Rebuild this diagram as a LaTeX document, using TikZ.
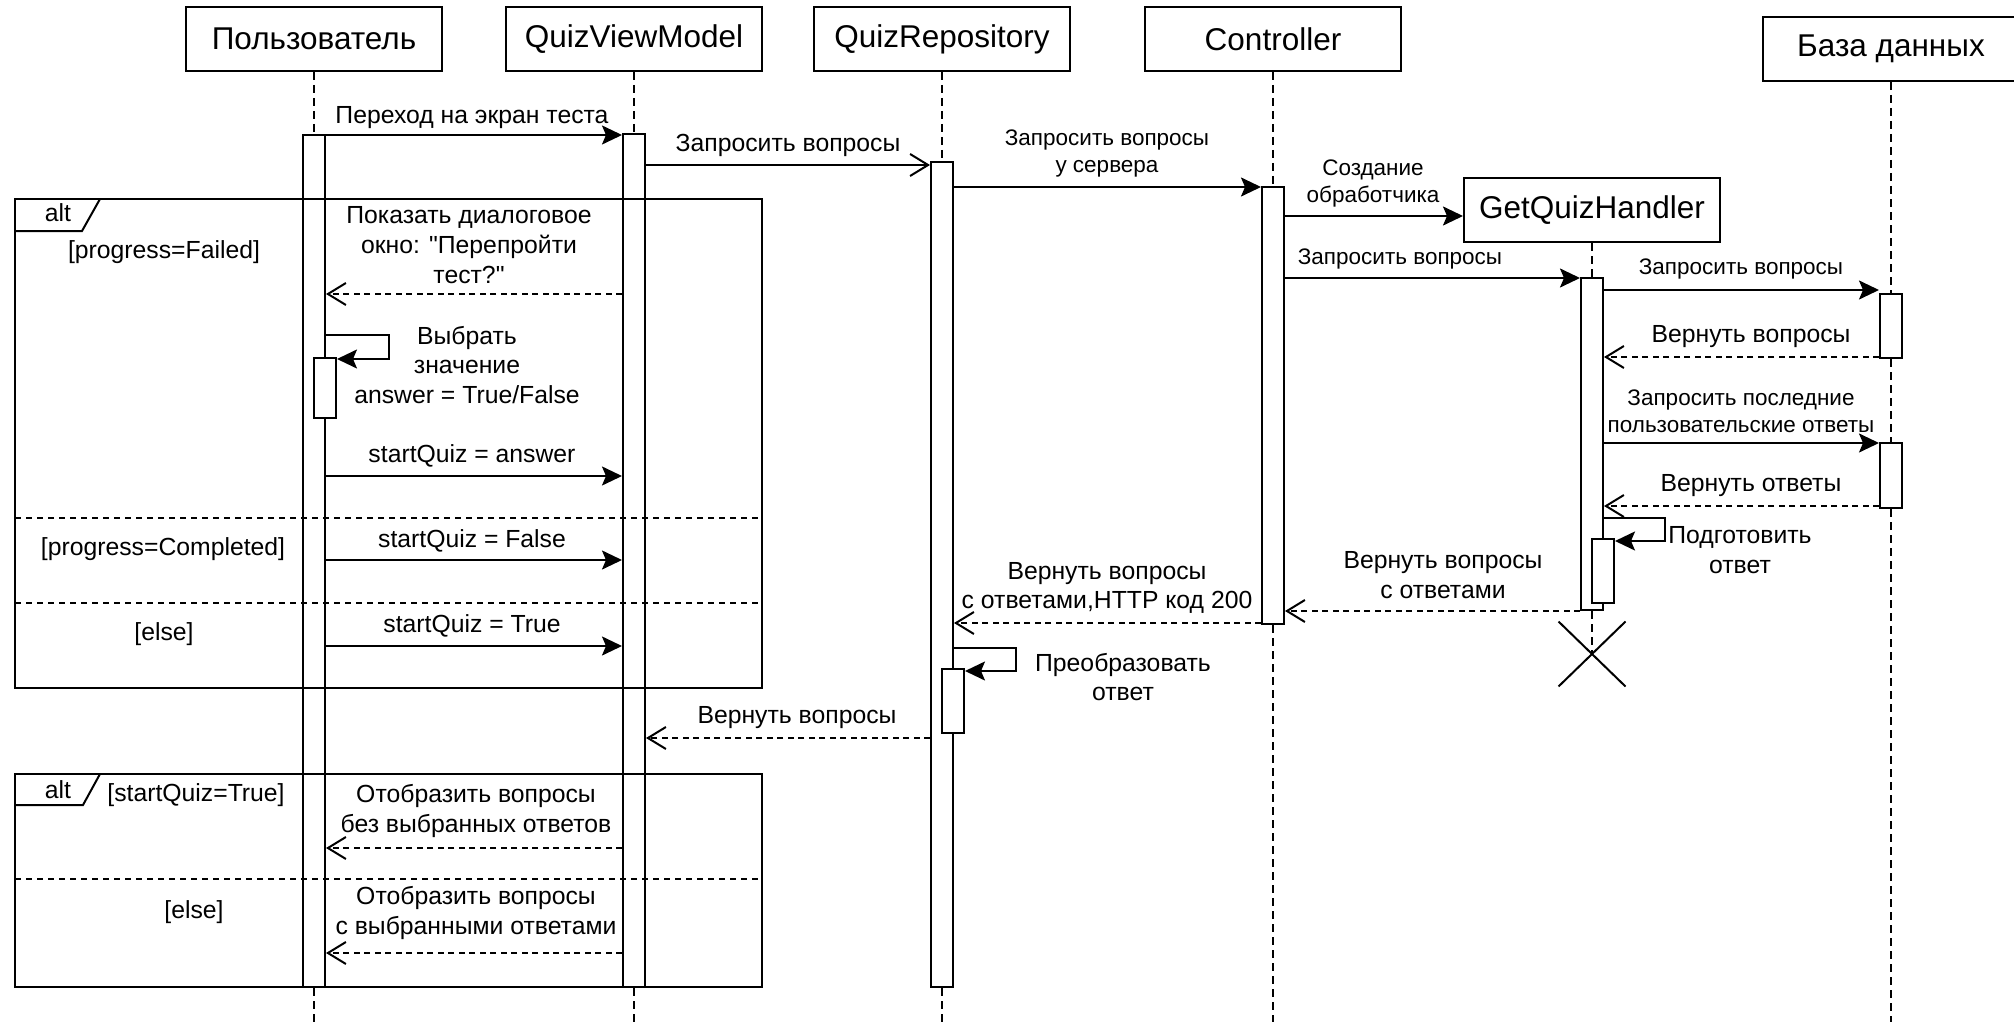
\documentclass[tikz,border=0pt]{standalone}
\usepackage{fontspec}
\setmainfont{Liberation Sans}[Ligatures=TeXOff]
\usetikzlibrary{arrows.meta,shapes.misc}

\newcommand\partsz{\fontsize{31.5}{37.8}\selectfont}
\newcommand\msgsz{\fontsize{24.75}{29.7}\selectfont}
\newcommand\smsz{\fontsize{22.5}{27}\selectfont}

\begin{document}
\begin{tikzpicture}[x=1pt,y=-1pt,
  part/.style={draw, fill=white, line width=2pt, minimum width=256pt, minimum height=64pt, inner sep=0pt, font=\partsz},
  act/.style={draw, fill=white, line width=2pt, minimum width=22pt, inner sep=0pt},
  life/.style={line width=1.5pt, dash pattern=on 8pt off 5pt},
  call/.style={line width=2pt, -{Stealth[length=20pt,width=19pt,inset=4pt]}},
  callopen/.style={line width=2pt, -{Straight Barb[length=18pt,width=22pt]}},
  reply/.style={line width=2pt, dash pattern=on 6pt off 4.5pt, -{Straight Barb[length=18pt,width=22pt]}},
  lbl/.style={inner sep=0pt, align=center, font=\msgsz},
  slbl/.style={inner sep=0pt, align=center, font=\smsz},
  sep/.style={line width=1.5pt, dash pattern=on 6pt off 5pt},
  frm/.style={line width=2pt},
]
\useasboundingbox (0,0) rectangle (2014,1022);
\clip (0,0) rectangle (2014,1022);

% participants
\node[part] (P1) at (314,39) {Пользователь};
\node[part] (P2) at (634,39) {QuizViewModel};
\node[part] (P3) at (942,39) {QuizRepository};
\node[part] (P4) at (1273,39) {Controller};
\node[part] (P5) at (1592,210) {GetQuizHandler};
\node[part] (P6) at (1891,49) {База данных};

% lifeline ends
\coordinate (E1) at (314,1022);
\coordinate (E2) at (634,1022);
\coordinate (E3) at (942,1022);
\coordinate (E4) at (1273,1022);
\coordinate (E6) at (1891,1022);

% activation bars
\node[act, minimum height=852pt] (A1) at (314,561) {};
\node[act, minimum height=853pt] (A2) at (634,560.5) {};
\node[act, minimum height=825pt] (A3) at (942,574.5) {};
\node[act, minimum height=437pt] (A4) at (1273,405.5) {};
\node[act, minimum height=332pt] (A5) at (1592,444) {};
\node[act, minimum height=64pt] (A6) at (1891,326) {};
\node[act, minimum height=65pt] (A7) at (1891,475.5) {};
\node[act, minimum height=60pt] (A1b) at (325,388) {};
\node[act, minimum height=64pt] (A3b) at (953,701) {};
\node[act, minimum height=64pt] (A5b) at (1603,571) {};

% destruction mark
\node[cross out, draw, line width=2pt, minimum width=65pt, minimum height=63pt, inner sep=0pt] (X) at (1592,654) {};

% lifelines
\draw[life] (P1.south) -- (A1.north);
\draw[life] (A1.south) -- (E1);
\draw[life] (P2.south) -- (A2.north);
\draw[life] (A2.south) -- (E2);
\draw[life] (P3.south) -- (A3.north);
\draw[life] (A3.south) -- (E3);
\draw[life] (P4.south) -- (A4.north);
\draw[life] (A4.south) -- (E4);
\draw[life] (P5.south) -- (A5.north);
\draw[life] (A5.south) -- (X.center);
\draw[life] (P6.south) -- (A6.north);
\draw[life] (A6.south) -- (A7.north);
\draw[life] (A7.south) -- (E6);

% first alt fragment
\draw[frm] (15,199) rectangle (762,688);
\draw[frm] (15,231) -- (82,231) -- (100,199);
\draw[sep] (15,518) -- (762,518);
\draw[sep] (15,603) -- (762,603);
\node[lbl] (alt1) at (58,213) {alt};
\node[lbl] (g1) at (164,252) {[progress=Failed]};
\node[lbl] (g2) at (163,549) {[progress=Completed]};
\node[lbl] (g3) at (164,634) {[else]};

% second alt fragment
\draw[frm] (15,774) rectangle (762,987);
\draw[frm] (15,805) -- (83,805) -- (100,774);
\draw[sep] (15,879) -- (762,879);
\node[lbl] (alt2) at (58,790) {alt};
\node[lbl] (g4) at (196,795) {[startQuiz=True]};
\node[lbl] (g5) at (194,912) {[else]};

% messages
\draw[call] (A1.east |- 0,135) -- (A2.west |- 0,135);
\node[lbl] (t1) at (472,118) {Переход на экран теста};

\draw[callopen] (A2.east |- 0,165) -- (A3.west |- 0,165);
\node[lbl] (t2) at (788,145) {Запросить вопросы};

\draw[call] (A3.east |- 0,187) -- (A4.west |- 0,187);
\node[slbl] (t3) at (1107,153) {Запросить вопросы\\у сервера};

\draw[call] (A4.east |- 0,216) -- (P5.west |- 0,216);
\node[slbl] (t4) at (1373,183) {Создание\\обработчика};

\draw[call] (A4.east |- 0,278) -- (A5.west |- 0,278);
\node[slbl] (t5) at (1400,259) {Запросить вопросы};

\draw[call] (A5.east |- 0,290) -- (A6.west |- 0,290);
\node[slbl] (t6) at (1741,269) {Запросить вопросы};

\draw[reply] (A6.west |- 0,357) -- (A5.east |- 0,357);
\node[lbl] (t7) at (1751,337) {Вернуть вопросы};

\draw[call] (A5.east |- 0,443) -- (A7.west |- 0,443);
\node[slbl] (t8) at (1741,411) {Запросить последние\\пользовательские ответы};

\draw[reply] (A7.west |- 0,506) -- (A5.east |- 0,506);
\node[lbl] (t9) at (1751,486) {Вернуть ответы};

\draw[call] (A5.east |- 0,518) -- ++(61,0) -- ++(0,23) -- (A5b.east |- 0,541);
\node[lbl] (t10) at (1740,550) {Подготовить\\ответ};

\draw[reply] (A5.west |- 0,611) -- (A4.east |- 0,611);
\node[lbl] (t11) at (1443,575) {Вернуть вопросы\\с ответами};

\draw[reply] (A4.west |- 0,623) -- (A3.east |- 0,623);
\node[lbl] (t12) at (1107,588) {Вернуть вопросы\\с ответами,HTTP код 200};

\draw[call] (A3.east |- 0,648) -- ++(62,0) -- ++(0,23) -- (A3b.east |- 0,671);
\node[lbl] (t13) at (1123,677) {Преобразовать\\ответ};

\draw[reply] (A3.west |- 0,738) -- (A2.east |- 0,738);
\node[lbl] (t14) at (797,718) {Вернуть вопросы};

\draw[reply] (A2.west |- 0,294) -- (A1.east |- 0,294);
\node[lbl] (t15) at (469,245) {Показать диалоговое\\окно: "Перепройти\\тест?"};

\draw[call] (A1.east |- 0,335) -- ++(63,0) -- ++(0,24) -- (A1b.east |- 0,359);
\node[lbl] (t16) at (467,365) {Выбрать\\значение\\answer = True/False};

\draw[call] (A1.east |- 0,476) -- (A2.west |- 0,476);
\node[lbl] (t17) at (472,456) {startQuiz = answer};

\draw[call] (A1.east |- 0,560) -- (A2.west |- 0,560);
\node[lbl] (t18) at (472,541) {startQuiz = False};

\draw[call] (A1.east |- 0,646) -- (A2.west |- 0,646);
\node[lbl] (t19) at (472,626) {startQuiz = True};

\draw[reply] (A2.west |- 0,848) -- (A1.east |- 0,848);
\node[lbl] (t20) at (476,811) {Отобразить вопросы\\без выбранных ответов};

\draw[reply] (A2.west |- 0,953) -- (A1.east |- 0,953);
\node[lbl] (t21) at (476,913) {Отобразить вопросы\\с выбранными ответами};

\end{tikzpicture}
\end{document}
